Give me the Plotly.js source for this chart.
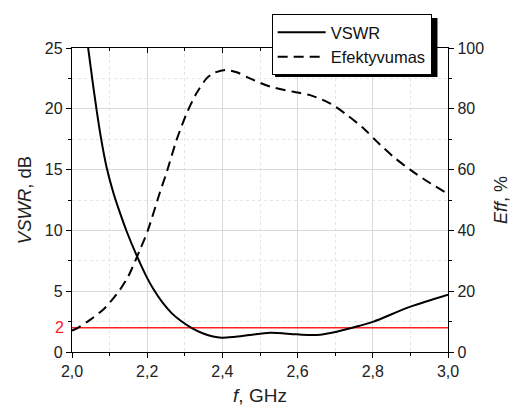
<!DOCTYPE html>
<html>
<head>
<meta charset="utf-8">
<script src="https://cdn.plot.ly/plotly-3.0.1.min.js"></script>
<style>html,body{margin:0;padding:0;background:#fff;}#chart{width:511px;height:408px;}</style>
</head>
<body>
<div id="chart"></div>
<script>
// Frequency (GHz) and VSWR (dB)
var fVSWR = [2.030, 2.043, 2.055, 2.065, 2.076, 2.092, 2.110, 2.127, 2.145, 2.171, 2.198, 2.216, 2.240, 2.265, 2.290, 2.320, 2.349, 2.375, 2.398, 2.430, 2.473, 2.527, 2.598, 2.651, 2.704, 2.766, 2.802, 2.900, 3.000];
var vswr  = [28.0, 25.0, 22.2, 20.0, 17.8, 15.2, 13.1, 11.5, 9.95, 8.0, 6.2, 5.2, 4.1, 3.2, 2.55, 1.95, 1.52, 1.27, 1.18, 1.24, 1.40, 1.59, 1.45, 1.40, 1.67, 2.17, 2.50, 3.73, 4.72];
// Frequency (GHz) and efficiency (%)
var fEff = [2.000, 2.020, 2.047, 2.087, 2.127, 2.150, 2.180, 2.202, 2.235, 2.251, 2.278, 2.305, 2.331, 2.358, 2.376, 2.407, 2.438, 2.473, 2.527, 2.589, 2.633, 2.686, 2.731, 2.775, 2.811, 2.855, 2.900, 2.953, 3.000];
var eff  = [7.0, 8.3, 10.5, 14.4, 20.4, 25.0, 33.4, 40.1, 53.0, 58.8, 69.7, 78.5, 85.1, 90.0, 91.7, 92.8, 92.0, 90.0, 87.3, 85.6, 84.5, 81.8, 78.0, 73.6, 69.2, 64.2, 59.9, 55.5, 52.0];
// Threshold line
var thrX = [2.0, 3.0];
var thrY = [2, 2];
var leftTicks = [0, 5, 10, 15, 20, 25];
var rightTicks = [0, 20, 40, 60, 80, 100];

var FAM = 'Liberation Sans, Arial, sans-serif';
var tickFont = {family: FAM, size: 16, color: '#222'};

var traces = [
  {x: thrX, y: thrY, mode: 'lines', line: {color: '#ff2020', width: 1.5}, showlegend: false, hoverinfo: 'skip'},
  {x: fVSWR, y: vswr, name: 'VSWR', mode: 'lines', line: {color: '#000', width: 2, shape: 'spline', smoothing: 0.9}},
  {x: fEff, y: eff, name: 'Efektyvumas', yaxis: 'y2', mode: 'lines', line: {color: '#000', width: 2, dash: '10px,6px', shape: 'spline', smoothing: 0.8}},
  {x: [], y: [], xaxis: 'x2', showlegend: false, hoverinfo: 'skip'}
];

var layout = {
  width: 511, height: 408,
  margin: {l: 72, r: 63, t: 48, b: 56, autoexpand: false},
  paper_bgcolor: '#fff', plot_bgcolor: '#fff',
  separators: ', ',
  font: {family: FAM, size: 16, color: '#222'},
  showlegend: true,
  legend: {x: 0.531, y: 1.112, xanchor: 'left', yanchor: 'top', bgcolor: '#fff', bordercolor: '#000', borderwidth: 1,
           font: {family: FAM, size: 16.5, color: '#111'}, tracegroupgap: 0, itemwidth: 48},
  xaxis: {
    range: [2, 3], tickmode: 'linear', tick0: 2, dtick: 0.2, tickformat: '.1f', tickfont: tickFont,
    ticks: 'outside', ticklen: 5, tickcolor: '#000', showline: true, linecolor: '#000', linewidth: 1.2,
    showgrid: true, gridcolor: '#d9d9d9', gridwidth: 1, zeroline: false,
    minor: {dtick: 0.1, ticks: 'outside', ticklen: 3, tickcolor: '#000', showgrid: true, gridcolor: '#e4e4e4', griddash: 'dot'},
    title: {text: '<i>f</i>, GHz', font: {family: FAM, size: 19, color: '#222'}, standoff: 9}
  },
  xaxis2: {
    overlaying: 'x', side: 'top', range: [2, 3], tickmode: 'linear', tick0: 2, dtick: 0.2,
    ticks: 'inside', ticklen: 5, tickcolor: '#000', showticklabels: false, showline: true, linecolor: '#000', linewidth: 1.2,
    showgrid: false, zeroline: false,
    minor: {dtick: 0.1, ticks: 'inside', ticklen: 3, tickcolor: '#000', showgrid: false}
  },
  yaxis: {
    range: [0, 25], tickmode: 'array', tickvals: leftTicks, tickfont: tickFont,
    ticks: 'outside', ticklen: 5, tickcolor: '#000', showline: true, linecolor: '#000', linewidth: 1.2,
    showgrid: true, gridcolor: '#d9d9d9', zeroline: false,
    minor: {tickmode: 'linear', tick0: 0, dtick: 2.5, ticks: 'outside', ticklen: 3, tickcolor: '#000', showgrid: true, gridcolor: '#e4e4e4', griddash: 'dot'},
    title: {text: '<i>VSWR</i>, dB', font: {family: FAM, size: 18.5, color: '#222'}, standoff: 8}
  },
  yaxis2: {
    overlaying: 'y', side: 'right', range: [0, 100], tickmode: 'array', tickvals: rightTicks, tickfont: tickFont,
    ticks: 'outside', ticklen: 5, tickcolor: '#000', showline: true, linecolor: '#000', linewidth: 1.2,
    showgrid: false, zeroline: false,
    minor: {tickmode: 'linear', tick0: 0, dtick: 10, ticks: 'outside', ticklen: 3, tickcolor: '#000', showgrid: false},
    title: {text: '<i>Eff</i>, %', font: {family: FAM, size: 18, color: '#222'}, standoff: 12}
  },
  annotations: [
    {xref: 'paper', yref: 'y', x: 0, y: 2, xanchor: 'right', yanchor: 'middle', xshift: -6, showarrow: false,
     text: '2', font: {family: FAM, size: 16, color: '#ff2020'}}
  ],
  shapes: [
    {type: 'rect', xref: 'paper', yref: 'paper', layer: 'above', x0: 0.540, x1: 0.972, y0: 0.9046, y1: 1.099,
     fillcolor: '#000', line: {width: 0}}
  ]
};

Plotly.newPlot('chart', traces, layout, {displayModeBar: false, staticPlot: true});
</script>
</body>
</html>
